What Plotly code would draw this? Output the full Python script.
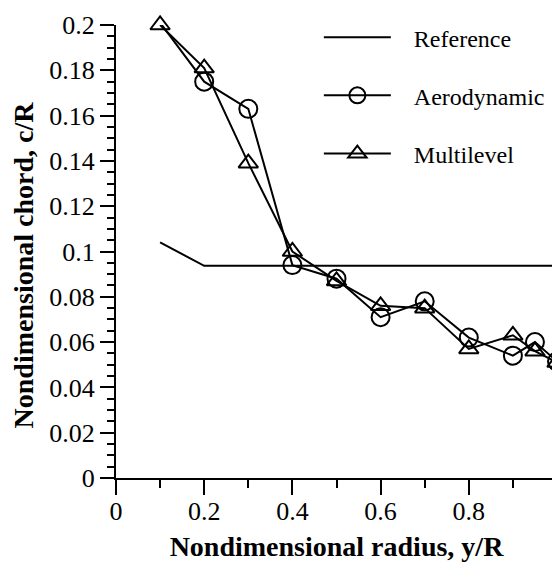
import plotly.graph_objects as go

# Data
ref_x = [0.1, 0.2, 1.0]
ref_y = [0.104, 0.0937, 0.0937]

radius = [0.1, 0.2, 0.3, 0.4, 0.5, 0.6, 0.7, 0.8, 0.9, 0.95, 1.0]
aero_chord = [0.201, 0.175, 0.163, 0.094, 0.088, 0.071, 0.078, 0.062, 0.054, 0.060, 0.0515]
multi_chord = [0.200, 0.181, 0.139, 0.100, 0.087, 0.076, 0.075, 0.057, 0.063, 0.056, 0.051]

x_ticks = [0, 0.2, 0.4, 0.6, 0.8, 1]
y_ticks = [0, 0.02, 0.04, 0.06, 0.08, 0.1, 0.12, 0.14, 0.16, 0.18, 0.2]

FONT = "Liberation Serif"
GAP = "\u00a0\u00a0\u00a0"

fig = go.Figure()
fig.add_trace(go.Scatter(
    x=ref_x, y=ref_y, mode="lines", name=GAP + "Reference",
    line=dict(color="black", width=2), legendgroup="a", cliponaxis=False))
fig.add_trace(go.Scatter(
    x=radius, y=aero_chord, mode="lines+markers", name=GAP + "Aerodynamic",
    line=dict(color="black", width=2),
    marker=dict(symbol="circle-open", size=18, color="black", line=dict(width=2)),
    legendgroup="b", cliponaxis=False))
fig.add_trace(go.Scatter(
    x=radius, y=multi_chord, mode="lines+markers", name=GAP + "Multilevel",
    line=dict(color="black", width=2),
    marker=dict(symbol="triangle-up-open", size=17, color="black", line=dict(width=2)),
    legendgroup="c", cliponaxis=False))

# page has an 8px body margin, so the figure is drawn 8px smaller and shifted
fig.update_layout(
    width=552, height=557,
    margin=dict(l=108, r=3, t=17, b=87),
    paper_bgcolor="white", plot_bgcolor="white",
    font=dict(family=FONT, size=25, color="black"),
    showlegend=True,
    legend=dict(x=0.46, y=1.022, xanchor="left", yanchor="top",
                font=dict(family=FONT, size=24, color="black"),
                bgcolor="rgba(0,0,0,0)", tracegroupgap=24,
                traceorder="grouped", itemwidth=67),
    xaxis=dict(
        range=[0, 1], tickvals=x_ticks, ticktext=[str(v) for v in x_ticks],
        showgrid=False, zeroline=False, showline=True, linecolor="black", linewidth=2,
        ticks="outside", ticklen=15, tickwidth=2, tickcolor="black",
        minor=dict(dtick=0.1, ticks="outside", ticklen=8, tickwidth=2, tickcolor="black"),
        ticklabelstandoff=-6, ticklabeloverflow="allow", automargin=False,
        title=dict(text="<b>Nondimensional radius, y/R</b>", font=dict(family=FONT, size=28), standoff=11),
        tickfont=dict(family=FONT, size=26),
    ),
    yaxis=dict(
        range=[0, 0.2], tickvals=y_ticks, ticktext=[("%g" % v) for v in y_ticks],
        showgrid=False, zeroline=False, showline=True, linecolor="black", linewidth=2,
        ticks="outside", ticklen=14, tickwidth=2, tickcolor="black",
        minor=dict(dtick=0.005, ticks="outside", ticklen=7, tickwidth=2, tickcolor="black"),
        ticklabeloverflow="allow", automargin=False,
        title=dict(text="<b>Nondimensional chord, c/R\u00a0\u00a0\u00a0\u00a0</b>",
                   font=dict(family=FONT, size=28), standoff=10),
        tickfont=dict(family=FONT, size=26),
    ),
)

fig.write_html("out.html")
